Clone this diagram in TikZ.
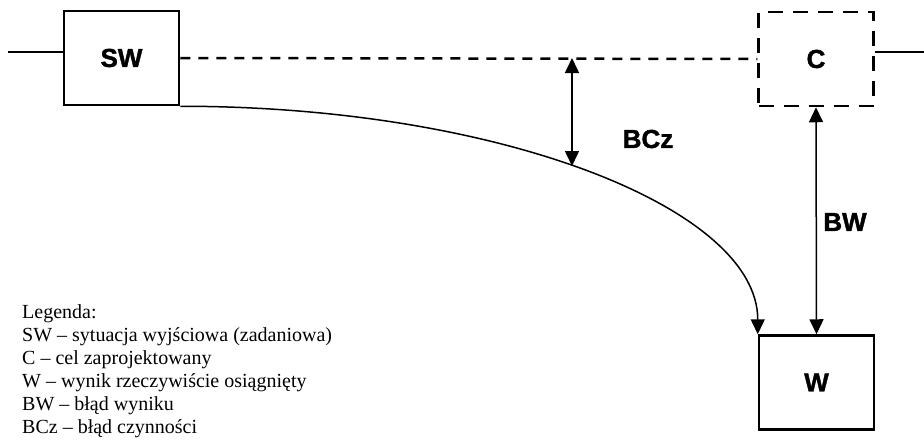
\documentclass[tikz,border=0pt]{standalone}
\usepackage{fontspec}
\setmainfont{Liberation Serif}
\newfontfamily\boxfont[BoldFeatures={FakeBold=1.5}]{Liberation Sans}
\usetikzlibrary{arrows.meta}

\begin{document}
\begin{tikzpicture}[x=1pt, y=1pt,
  box/.style={draw, line width=2.5pt, minimum width=115pt, minimum height=94pt,
    font=\boxfont\fontsize{26}{30}\selectfont\bfseries},
  dashbox/.style={box, dash pattern=on 15pt off 10pt},
  lbl/.style={font=\boxfont\fontsize{26}{30}\selectfont\bfseries},
  con/.style={line width=1.5pt},
  tip/.style={-{Triangle[width=14pt,length=15pt]}},
  tips/.style={{Triangle[width=14pt,length=15pt]}-{Triangle[width=14pt,length=15pt]}}]
  \useasboundingbox (0, 0) rectangle (924, -445);

  \node[box] (sw) at (121.5, -58) {SW};
  \node[dashbox] (c) at (816, -59) {C};
  \node[box] (w) at (816.5, -382.5) {W};

  \coordinate (in) at (8, -52);
  \coordinate (out) at (924, -52);
  \draw[con] (in) -- (in -| sw.west);
  \draw[con] (c.east |- out) -- (out);

  \draw[line width=2.5pt, dash pattern=on 10pt off 8pt] (sw.east) -- (c.west);

  \draw[con, tip] (sw.south east) .. controls +(319, 0) and +(0, 126) .. (w.north west);

  \coordinate (bcztop) at (572, -58);
  \coordinate (bczbot) at (572, -166);
  \draw[con, tips] (bcztop) -- (bczbot);
  \node[lbl] (bcz) at (648, -139) {BCz};

  \draw[con, tips] (c.south) -- (w.north);
  \node[lbl] (bw) at (845, -222) {BW};

  \node[anchor=north west, inner sep=0pt, align=left, font=\fontsize{20}{23}\selectfont] (legend) at (22, -304)
    {Legenda:\\
     SW -- sytuacja wyjściowa (zadaniowa)\\
     C -- cel zaprojektowany\\
     W -- wynik rzeczywiście osiągnięty\\
     BW -- błąd wyniku\\
     BCz -- błąd czynności};
\end{tikzpicture}
\end{document}
